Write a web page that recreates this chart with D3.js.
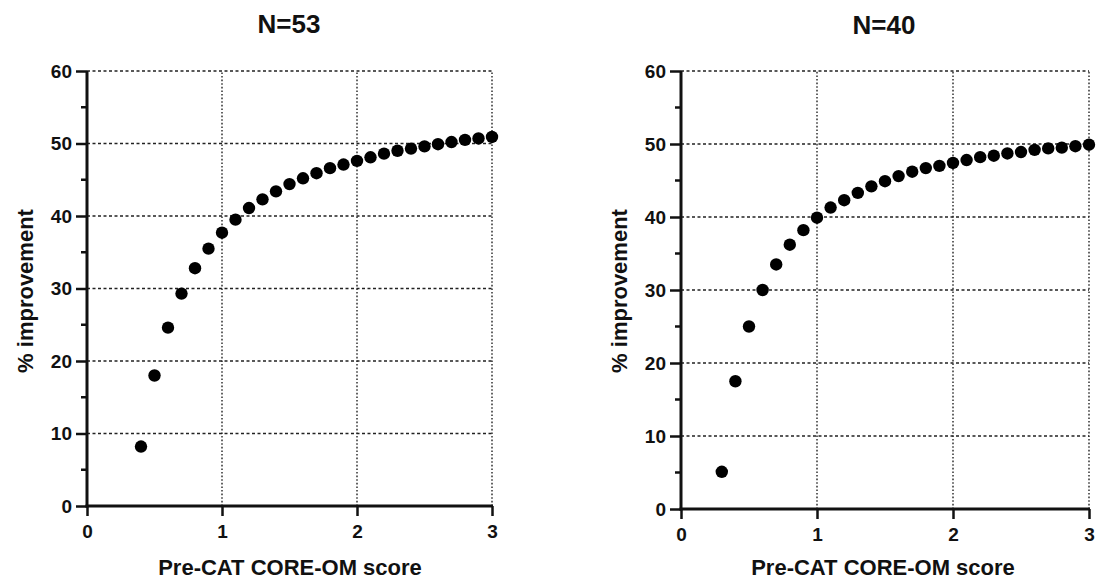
<!DOCTYPE html>
<html>
<head>
<meta charset="utf-8">
<script src="https://cdn.jsdelivr.net/npm/d3@7"></script>
<style>
  body { margin: 0; background: #fff; }
  svg { display: block; font-family: "Liberation Sans", Arial, sans-serif; }
  .title { font-weight: bold; font-size: 26px; fill: #111; }
  .axis-title { font-weight: bold; font-size: 22px; fill: #111; }
  .grid line { stroke: #222; stroke-width: 1.4; }
</style>
</head>
<body>
<svg id="chart" width="1099" height="579"></svg>
<script>
const xLeft = [0.4, 0.5, 0.6, 0.7, 0.8, 0.9, 1.0, 1.1, 1.2, 1.3, 1.4, 1.5, 1.6, 1.7, 1.8, 1.9, 2.0,
  2.1, 2.2, 2.3, 2.4, 2.5, 2.6, 2.7, 2.8, 2.9, 3.0];
const yLeft = [8.2, 18.0, 24.6, 29.3, 32.8, 35.5, 37.7, 39.5, 41.1, 42.3, 43.4, 44.4, 45.2, 45.9, 46.6, 47.1, 47.6,
  48.1, 48.6, 49.0, 49.3, 49.6, 49.9, 50.2, 50.5, 50.7, 50.9];

const xRight = [0.3, 0.4, 0.5, 0.6, 0.7, 0.8, 0.9, 1.0, 1.1, 1.2, 1.3, 1.4, 1.5, 1.6, 1.7, 1.8, 1.9, 2.0,
  2.1, 2.2, 2.3, 2.4, 2.5, 2.6, 2.7, 2.8, 2.9, 3.0];
const yRight = [5.1, 17.5, 25.0, 30.0, 33.5, 36.2, 38.2, 39.9, 41.3, 42.3, 43.3, 44.2, 44.9, 45.6, 46.2, 46.7, 47.0, 47.4,
  47.8, 48.2, 48.4, 48.7, 48.9, 49.2, 49.4, 49.5, 49.7, 49.9];

const xTicks = [0, 1, 2, 3];
const yTicks = [0, 10, 20, 30, 40, 50, 60];
const yMinorTicks = [5, 15, 25, 35, 45, 55];

const svg = d3.select("#chart");

function panel(opts) {
  const { x0, x1, y0, y1, title, titleX, titleY, xTitleX, yTitleX, xs, ys } = opts;
  const x = d3.scaleLinear().domain([0, 3]).range([x0, x1]);
  const y = d3.scaleLinear().domain([0, 60]).range([y0, y1]);
  const g = svg.append("g");

  // dotted grid
  const grid = g.append("g").attr("class", "grid");
  grid.selectAll("line.h")
    .data(yTicks.slice(1))
    .join("line")
    .attr("class", "h")
    .attr("x1", x0).attr("x2", x1)
    .attr("y1", d => y(d)).attr("y2", d => y(d))
    .attr("stroke-dasharray", "3,2.5");
  grid.selectAll("line.v")
    .data(xTicks.slice(1))
    .join("line")
    .attr("class", "v")
    .attr("y1", y0).attr("y2", y1)
    .attr("x1", d => x(d)).attr("x2", d => x(d))
    .attr("stroke-dasharray", "1.6,2");

  // minor y ticks
  g.selectAll("line.minor")
    .data(yMinorTicks)
    .join("line")
    .attr("class", "minor")
    .attr("x1", x0 - 6).attr("x2", x0)
    .attr("y1", d => y(d)).attr("y2", d => y(d))
    .attr("stroke", "#111").attr("stroke-width", 2.5);

  const yAxis = g.append("g")
    .attr("transform", `translate(${x0},0)`)
    .call(d3.axisLeft(y).tickValues(yTicks).tickFormat(d3.format("d")).tickSize(11).tickPadding(4).tickSizeOuter(0));
  const xAxis = g.append("g")
    .attr("transform", `translate(0,${y0})`)
    .call(d3.axisBottom(x).tickValues(xTicks).tickFormat(d3.format("d")).tickSize(10).tickPadding(9).tickSizeOuter(0));
  [yAxis, xAxis].forEach(a => {
    a.attr("font-family", null).attr("font-size", null);
    a.select(".domain").attr("stroke", "#111").attr("stroke-width", 3);
    a.selectAll(".tick line").attr("stroke", "#111").attr("stroke-width", 2.5);
    a.selectAll(".tick text")
      .attr("font-size", 19).attr("font-weight", "bold").attr("fill", "#111");
  });
  yAxis.select(".domain").attr("d", `M0,${y0 + 1.5}V${y1}`);
  xAxis.select(".domain").attr("d", `M${x0 - 1.5},0H${x1 + 1}`);

  g.selectAll("circle")
    .data(xs.map((v, i) => [v, ys[i]]))
    .join("circle")
    .attr("cx", d => x(d[0]))
    .attr("cy", d => y(d[1]))
    .attr("r", 6.2)
    .attr("fill", "#000");

  g.append("text").attr("class", "title")
    .attr("x", titleX).attr("y", titleY)
    .attr("text-anchor", "middle").text(title);
  g.append("text").attr("class", "axis-title")
    .attr("x", xTitleX).attr("y", 575)
    .attr("text-anchor", "middle").text("Pre-CAT CORE-OM score");
  g.append("text").attr("class", "axis-title")
    .attr("transform", `translate(${yTitleX},291) rotate(-90)`)
    .attr("text-anchor", "middle").text("% improvement");
}

panel({ x0: 87, x1: 492, y0: 506, y1: 71, title: "N=53", titleX: 289, titleY: 33, xTitleX: 290, yTitleX: 33, xs: xLeft, ys: yLeft });
panel({ x0: 681, x1: 1089, y0: 509, y1: 71, title: "N=40", titleX: 884, titleY: 34, xTitleX: 883, yTitleX: 627, xs: xRight, ys: yRight });
</script>
</body>
</html>
